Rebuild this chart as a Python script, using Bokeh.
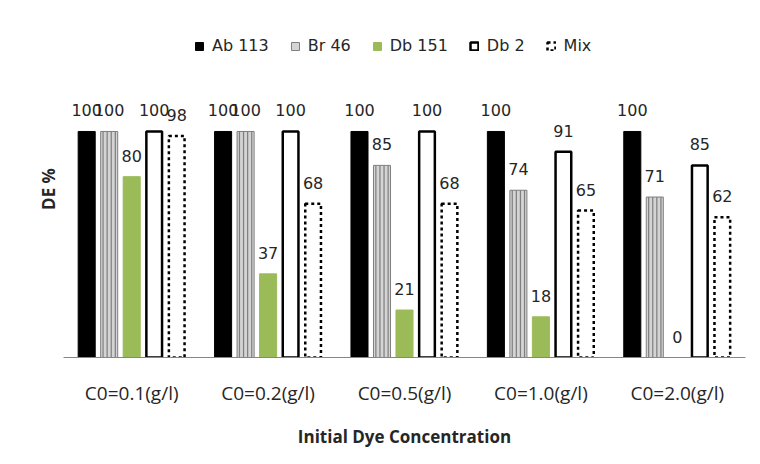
from bokeh.plotting import figure
from bokeh.models import FactorRange, Range1d, Legend, LegendItem, ColumnDataSource, FixedTicker
from bokeh.transform import dodge
from bokeh.core.properties import value
from bokeh.embed import file_html
from bokeh.resources import INLINE

categories = ["C0=0.1(g/l)", "C0=0.2(g/l)", "C0=0.5(g/l)", "C0=1.0(g/l)", "C0=2.0(g/l)"]
series_names = ["Ab 113", "Br 46", "Db 151", "Db 2", "Mix"]
ab113 = [100, 100, 100, 100, 100]
br46 = [100, 100, 85, 74, 71]
db151 = [80, 37, 21, 18, 0]
db2 = [100, 100, 100, 91, 85]
mix = [98, 68, 68, 65, 62]
series_values = [ab113, br46, db151, db2, mix]

offsets = [-0.33, -0.165, 0.0, 0.165, 0.33]
styles = [
    dict(fill_color="black", line_color="black", line_width=1),
    dict(fill_color="#d4d4d4", line_color="#7f7f7f", line_width=1),
    dict(fill_color="#9bbb59", line_color="#9bbb59", line_width=1),
    dict(fill_color="white", line_color="black", line_width=2.5),
    dict(fill_color="white", line_color="black", line_width=2.5, line_dash="3 3"),
]
widths = [0.125, 0.125, 0.125, 0.115, 0.115]
stripe_offsets = [-0.045, -0.015, 0.015, 0.045]

p = figure(x_range=FactorRange(factors=categories), y_range=Range1d(0, 149.1),
           frame_width=682, frame_height=337, output_backend="svg", toolbar_location=None,
           min_border_left=63, min_border_right=7, min_border_top=20, min_border_bottom=0)
p.outline_line_color = None
p.xgrid.grid_line_color = None
p.ygrid.grid_line_color = None

items = []
for name, vals, off, st, w in zip(series_names, series_values, offsets, styles, widths):
    src = ColumnDataSource(dict(cat=categories, val=vals, lab=[str(v) for v in vals]))
    r = p.vbar(x=dodge("cat", off, range=p.x_range), top="val", width=w, source=src, **st)
    if name == "Br 46":
        for so in stripe_offsets:
            p.vbar(x=dodge("cat", off + so, range=p.x_range), top="val", width=0.009,
                   source=src, fill_color="#7f7f7f", line_color=None)
    p.text(x=dodge("cat", off, range=p.x_range), y="val", text="lab", source=src,
           text_align="center", text_baseline="alphabetic", y_offset=-21,
           text_font=value("DejaVu Sans"), text_font_size="16px", text_color="#262626")
    items.append(LegendItem(label=name, renderers=[r]))

legend = Legend(items=items, orientation="horizontal", location=(131, 302),
                glyph_width=10, glyph_height=10, label_standoff=8, spacing=21,
                padding=0, margin=0, border_line_color=None, background_fill_alpha=0,
                label_text_font="DejaVu Sans", label_text_font_size="16px",
                label_text_color="#262626")
p.add_layout(legend, "center")

xa = p.xaxis[0]
xa.axis_line_color = "#868686"
xa.major_tick_line_color = None
xa.minor_tick_line_color = None
xa.major_label_standoff = 16
xa.major_label_text_font = "Open Sans"
xa.major_label_text_font_size = "19px"
xa.major_label_text_color = "#262626"
xa.axis_label = "Initial Dye Concentration"
xa.axis_label_standoff = 16
xa.axis_label_text_font = "Open Sans"
xa.axis_label_text_font_style = "bold"
xa.axis_label_text_font_size = "17px"
xa.axis_label_text_color = "#262626"

ya = p.yaxis[0]
ya.ticker = FixedTicker(ticks=[])
ya.axis_line_color = None
ya.major_tick_line_color = None
ya.minor_tick_line_color = None
ya.axis_label = "DE %"
ya.axis_label_standoff = 4
ya.axis_label_text_font = "Open Sans"
ya.axis_label_text_font_style = "bold"
ya.axis_label_text_font_size = "17px"
ya.axis_label_text_color = "#262626"

open("out.html", "w").write(file_html(p, INLINE))
